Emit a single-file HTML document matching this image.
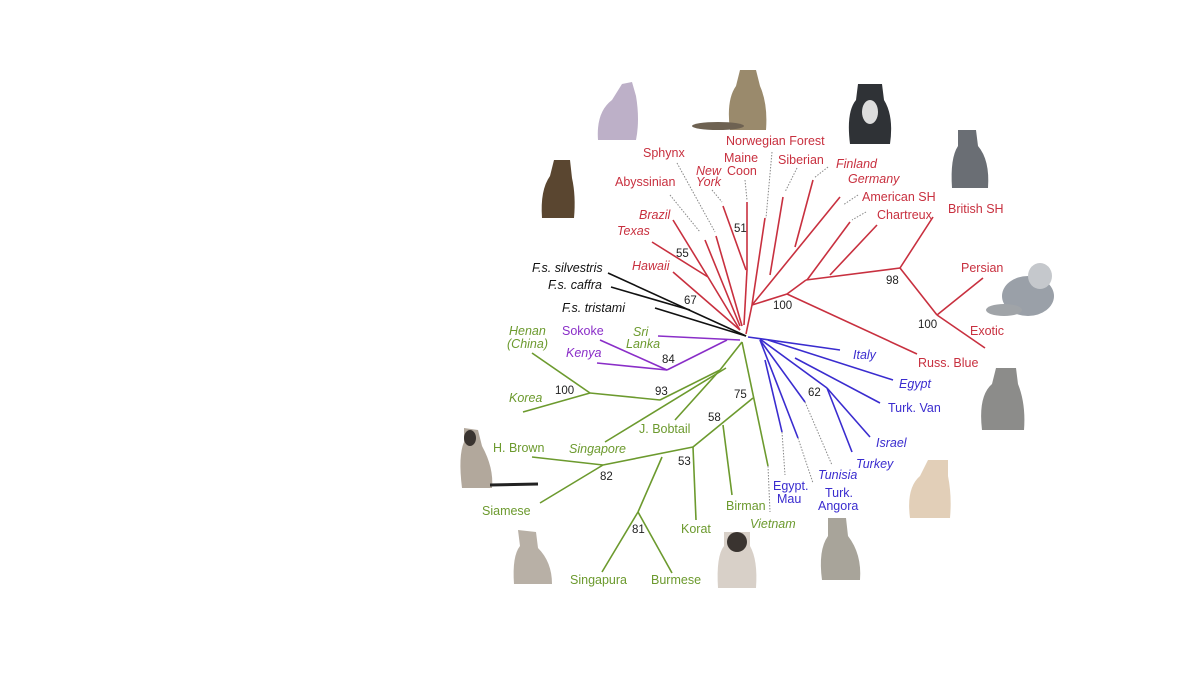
<!DOCTYPE html>
<html><head><meta charset="utf-8"><style>
html,body{margin:0;padding:0;background:#fff;width:1200px;height:675px;overflow:hidden}
svg{display:block}
text{font-family:"Liberation Sans",sans-serif;font-size:12.5px}
.r{fill:#c8303f}.b{fill:#3a2ccf}.g{fill:#6c9a2e}.p{fill:#8a2ec8}.k{fill:#111}.n{fill:#222;font-size:11.5px}
.i{font-style:italic}
</style></head><body>
<svg width="1200" height="675" viewBox="0 0 1200 675">
<g>
<path d="M598,140 Q596,112 612,100 L622,84 L632,82 L636,96 Q640,120 636,140 Z" fill="#bdb0c8"/>
<path d="M730,130 Q726,100 736,86 L740,70 L756,70 L760,86 Q768,104 766,130 Z" fill="#9a8a6c"/><ellipse cx="718" cy="126" rx="26" ry="4" fill="#6e6252"/>
<path d="M850,144 Q846,112 856,100 L858,84 L882,84 L884,100 Q894,116 890,144 Z" fill="#2f3236"/><ellipse cx="870" cy="112" rx="8" ry="12" fill="#ddd"/>
<path d="M952,188 Q950,158 958,146 L958,130 L976,130 L978,146 Q990,160 988,188 Z" fill="#6a6e74"/>
<path d="M542,218 Q540,190 550,176 L554,160 L570,160 L572,178 Q576,196 574,218 Z" fill="#5a4630"/>
<ellipse cx="1028" cy="296" rx="26" ry="20" fill="#9aa0a8"/><ellipse cx="1040" cy="276" rx="12" ry="13" fill="#c5c8cc"/><ellipse cx="1004" cy="310" rx="18" ry="6" fill="#a0a4a8"/>
<path d="M982,430 Q978,396 992,384 L996,368 L1016,368 L1018,384 Q1026,404 1024,430 Z" fill="#8c8c8a"/>
<path d="M910,518 Q906,488 920,476 L928,460 L948,460 L948,476 Q952,496 950,518 Z" fill="#e2cfb8"/>
<path d="M822,580 Q818,550 828,536 L828,518 L846,518 L848,536 Q862,554 860,580 Z" fill="#a8a49a"/>
<path d="M718,588 Q716,556 724,546 L724,532 L750,532 L750,546 Q758,560 756,588 Z" fill="#d8d0c8"/><ellipse cx="737" cy="542" rx="10" ry="10" fill="#3a3430"/>
<path d="M514,584 Q512,556 520,546 L518,530 L536,532 L538,548 Q552,562 552,584 Z" fill="#b8b0a6"/>
<path d="M462,488 Q458,456 464,442 L464,428 L478,430 L482,446 Q494,468 492,488 Z" fill="#b2a89c"/><ellipse cx="470" cy="438" rx="6" ry="8" fill="#3a3430"/><line x1="490" y1="485" x2="538" y2="484" stroke="#222" stroke-width="3"/>
</g>
<g fill="none" stroke-width="1.6">
<g stroke="#111">
<line x1="608" y1="273" x2="746" y2="336"/><line x1="611" y1="287" x2="690" y2="310"/><line x1="655" y1="308" x2="746" y2="336"/>
</g>
<g stroke="#c8303f">
<line x1="673" y1="272" x2="740" y2="330"/>
<line x1="652" y1="242" x2="708" y2="277"/><line x1="673" y1="220" x2="708" y2="277"/><line x1="708" y1="277" x2="740" y2="330"/>
<line x1="705" y1="240" x2="740" y2="326"/><line x1="716" y1="236" x2="742" y2="326"/>
<line x1="723" y1="206" x2="746" y2="270"/><line x1="747" y1="202" x2="747" y2="270"/><line x1="747" y1="270" x2="744" y2="325"/>
<line x1="765" y1="218" x2="752" y2="305"/><line x1="783" y1="197" x2="770" y2="275"/><line x1="813" y1="180" x2="795" y2="247"/>
<line x1="840" y1="197" x2="752" y2="305"/>
<line x1="850" y1="222" x2="807" y2="280"/><line x1="877" y1="225" x2="830" y2="275"/>
<line x1="746" y1="334" x2="752" y2="305"/><line x1="752" y1="305" x2="787" y2="294"/><line x1="787" y1="294" x2="806" y2="280"/><line x1="806" y1="280" x2="900" y2="268"/>
<line x1="900" y1="268" x2="933" y2="217"/><line x1="900" y1="268" x2="937" y2="315"/><line x1="937" y1="315" x2="983" y2="278"/><line x1="937" y1="315" x2="985" y2="348"/>
<line x1="787" y1="294" x2="917" y2="354"/>
</g>
<g stroke="#3a2ccf">
<line x1="748" y1="337" x2="840" y2="350"/><line x1="768" y1="340" x2="893" y2="380"/>
<line x1="760" y1="339" x2="827" y2="388"/><line x1="795" y1="358" x2="880" y2="403"/>
<line x1="827" y1="388" x2="870" y2="437"/><line x1="827" y1="388" x2="852" y2="452"/>
<line x1="760" y1="340" x2="805" y2="402"/><line x1="760" y1="340" x2="798" y2="438"/><line x1="765" y1="360" x2="782" y2="432"/>
</g>
<g stroke="#8a2ec8">
<line x1="658" y1="336" x2="740" y2="340"/><line x1="600" y1="340" x2="667" y2="370"/><line x1="597" y1="363" x2="667" y2="370"/><line x1="667" y1="370" x2="727" y2="340"/>
</g>
<g stroke="#6c9a2e">
<line x1="742" y1="342" x2="768" y2="466"/>
<line x1="742" y1="342" x2="720" y2="370"/><line x1="720" y1="370" x2="660" y2="400"/><line x1="660" y1="400" x2="590" y2="393"/>
<line x1="590" y1="393" x2="532" y2="353"/><line x1="590" y1="393" x2="523" y2="412"/>
<line x1="720" y1="370" x2="675" y2="420"/><line x1="726" y1="368" x2="605" y2="442"/>
<line x1="753" y1="398" x2="693" y2="447"/><line x1="723" y1="425" x2="732" y2="495"/><line x1="693" y1="447" x2="696" y2="520"/>
<line x1="693" y1="447" x2="603" y2="465"/><line x1="662" y1="457" x2="638" y2="512"/>
<line x1="638" y1="512" x2="602" y2="572"/><line x1="638" y1="512" x2="672" y2="573"/>
<line x1="603" y1="465" x2="532" y2="457"/><line x1="603" y1="465" x2="540" y2="503"/>
</g>
</g>
<g stroke="#888" stroke-width="1" stroke-dasharray="1.5,1.5" fill="none">
<line x1="670" y1="195" x2="700" y2="232"/><line x1="677" y1="163" x2="715" y2="232"/><line x1="712" y1="190" x2="722" y2="202"/>
<line x1="745" y1="180" x2="747" y2="200"/><line x1="772" y1="152" x2="766" y2="218"/><line x1="797" y1="168" x2="785" y2="192"/>
<line x1="828" y1="167" x2="814" y2="178"/><line x1="858" y1="195" x2="843" y2="205"/><line x1="866" y1="212" x2="852" y2="220"/>
<line x1="805" y1="402" x2="832" y2="465"/><line x1="798" y1="438" x2="813" y2="483"/><line x1="782" y1="432" x2="785" y2="475"/><line x1="768" y1="466" x2="770" y2="512"/>
</g>
<text class="r" x="726" y="145">Norwegian Forest</text>
<text class="r" x="643" y="157">Sphynx</text>
<text class="r" x="724" y="162">Maine</text><text class="r" x="727" y="175">Coon</text>
<text class="r i" x="696" y="175">New</text><text class="r i" x="696" y="186">York</text>
<text class="r" x="778" y="164">Siberian</text>
<text class="r i" x="836" y="168">Finland</text>
<text class="r i" x="848" y="183">Germany</text>
<text class="r" x="862" y="201">American SH</text>
<text class="r" x="877" y="219">Chartreux</text>
<text class="r" x="948" y="213">British SH</text>
<text class="r" x="615" y="186">Abyssinian</text>
<text class="r i" x="639" y="219">Brazil</text>
<text class="r i" x="617" y="235">Texas</text>
<text class="r i" x="632" y="270">Hawaii</text>
<text class="r" x="961" y="272">Persian</text>
<text class="r" x="970" y="335">Exotic</text>
<text class="r" x="918" y="367">Russ. Blue</text>
<text class="k i" x="532" y="272">F.s. silvestris</text>
<text class="k i" x="548" y="289">F.s. caffra</text>
<text class="k i" x="562" y="312">F.s. tristami</text>
<text class="g i" x="509" y="335">Henan</text><text class="g i" x="507" y="348">(China)</text>
<text class="p" x="562" y="335">Sokoke</text>
<text class="g i" x="633" y="336">Sri</text><text class="g i" x="626" y="348">Lanka</text>
<text class="p i" x="566" y="357">Kenya</text>
<text class="g i" x="509" y="402">Korea</text>
<text class="g" x="639" y="433">J. Bobtail</text>
<text class="g i" x="569" y="453">Singapore</text>
<text class="g" x="493" y="452">H. Brown</text>
<text class="g" x="482" y="515">Siamese</text>
<text class="g" x="570" y="584">Singapura</text>
<text class="g" x="651" y="584">Burmese</text>
<text class="g" x="681" y="533">Korat</text>
<text class="g" x="726" y="510">Birman</text>
<text class="g i" x="750" y="528">Vietnam</text>
<text class="b" x="773" y="490">Egypt.</text><text class="b" x="777" y="503">Mau</text>
<text class="b i" x="818" y="479">Tunisia</text>
<text class="b" x="825" y="497">Turk.</text><text class="b" x="818" y="510">Angora</text>
<text class="b i" x="853" y="359">Italy</text>
<text class="b i" x="899" y="388">Egypt</text>
<text class="b" x="888" y="412">Turk. Van</text>
<text class="b i" x="876" y="447">Israel</text>
<text class="b i" x="856" y="468">Turkey</text>
<text class="n" x="734" y="232">51</text>
<text class="n" x="676" y="257">55</text>
<text class="n" x="684" y="304">67</text>
<text class="n" x="773" y="309">100</text>
<text class="n" x="886" y="284">98</text>
<text class="n" x="918" y="328">100</text>
<text class="n" x="662" y="363">84</text>
<text class="n" x="555" y="394">100</text>
<text class="n" x="655" y="395">93</text>
<text class="n" x="734" y="398">75</text>
<text class="n" x="708" y="421">58</text>
<text class="n" x="808" y="396">62</text>
<text class="n" x="678" y="465">53</text>
<text class="n" x="600" y="480">82</text>
<text class="n" x="632" y="533">81</text>
</svg>
</body></html>
